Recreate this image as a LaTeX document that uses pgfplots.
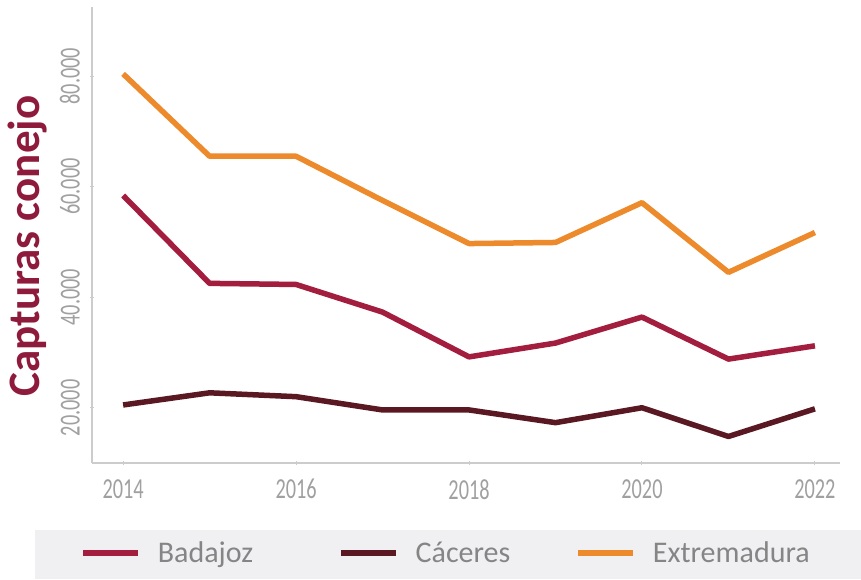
\documentclass[border=0pt]{standalone}
\usepackage{fontspec}
\setmainfont{Carlito}
\newfontfamily\condfont[FakeStretch=0.7]{Carlito}
\usepackage{pgfplots}
\pgfplotsset{compat=1.18}
\definecolor{badajoz}{HTML}{A21D3E}
\definecolor{caceres}{HTML}{5A1822}
\definecolor{extrem}{HTML}{EC8A2C}
\definecolor{ylab}{HTML}{8E1B3C}
\definecolor{tickgray}{HTML}{A0A0A0}
\definecolor{axgray}{HTML}{CCCCCC}
\definecolor{legbg}{HTML}{F0F0F3}
\definecolor{legtext}{HTML}{858585}
\begin{document}
\begin{tikzpicture}
\path[use as bounding box] (-92pt,-116pt) rectangle (769pt,463pt);
\fill[legbg] (-57pt,-67pt) rectangle (769pt,-116pt);
\begin{axis}[
  at={(0pt,0pt)}, anchor=south west,
  scale only axis, width=748pt, height=456pt,
  xmin=2013.64, xmax=2022.29, ymin=10000, ymax=92500,
  axis x line=bottom, axis y line=left,
  axis line style={-, draw=axgray, line width=1.8pt},
  xtick={2014,2016,2018,2020,2022},
  ytick={20000,40000,60000,80000},
  scaled y ticks=false,
  tick style={draw=axgray, line width=1pt},
  major tick length=4pt,
  tick align=center,
  /pgf/number format/assume math mode=true,
  x tick label style={/pgf/number format/1000 sep={}},
  y tick label style={/pgf/number format/1000 sep={.}},
  xticklabel style={font=\condfont\fontsize{29}{32}\selectfont, text=tickgray, inner sep=0pt},
  xticklabel shift=14pt,
  yticklabel style={font=\condfont\fontsize{29}{32}\selectfont, text=tickgray, inner sep=0pt, rotate=90, anchor=south},
  yticklabel shift=10pt,
  ylabel={Capturas conejo},
  ylabel style={at={(axis description cs:-0.0856,0.476)}, anchor=center, font=\bfseries\fontsize{45}{48}\selectfont, text=ylab},
  legend columns=3,
  legend image code/.code={\draw[#1] (0pt,0pt) -- (55pt,0pt);},
  legend style={at={(axis description cs:0.472,-0.197)}, anchor=center, draw=none, fill=none, inner sep=0pt,
    font=\fontsize{30}{32}\selectfont, text=legtext,
    nodes={inner sep=0pt},
    /tikz/column 1/.style={column sep=17pt},
    /tikz/column 2/.style={column sep=85pt},
    /tikz/column 3/.style={column sep=17pt},
    /tikz/column 4/.style={column sep=65pt},
    /tikz/column 5/.style={column sep=17pt}},
  every axis plot/.append style={line width=5.5pt, line join=round},
]
\addplot[badajoz] coordinates {(2014,58400) (2015,42500) (2016,42300) (2017,37300) (2018,29200) (2019,31700) (2020,36400) (2021,28800) (2022,31200)};
\addlegendentry{Badajoz}
\addplot[caceres] coordinates {(2014,20500) (2015,22700) (2016,22000) (2017,19600) (2018,19600) (2019,17300) (2020,20000) (2021,14800) (2022,19800)};
\addlegendentry{Cáceres}
\addplot[extrem] coordinates {(2014,80400) (2015,65500) (2016,65500) (2017,57500) (2018,49700) (2019,49900) (2020,57100) (2021,44500) (2022,51700)};
\addlegendentry{Extremadura}
\end{axis}
\end{tikzpicture}
\end{document}
